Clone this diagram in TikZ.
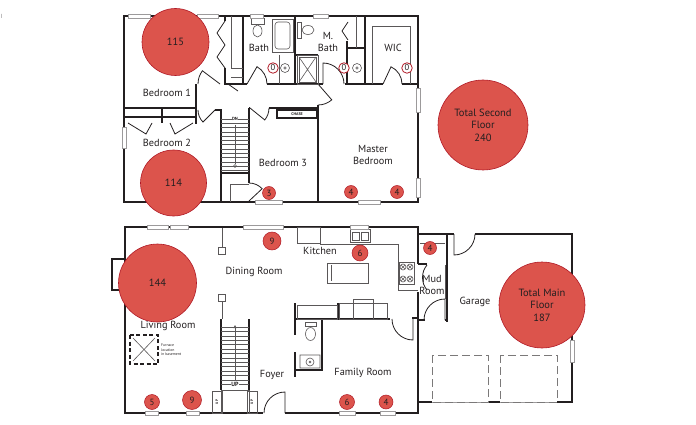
\documentclass[tikz,border=0pt]{standalone}
\usepackage{fontspec}
\setmainfont{PT Sans}
\usetikzlibrary{arrows.meta}
\definecolor{ink}{RGB}{35,31,32}
\definecolor{dotred}{RGB}{220,84,76}
\definecolor{dotrim}{RGB}{176,26,38}

\begin{document}
\begin{tikzpicture}[x=1pt,y=-1pt,
  wall/.style={line width=2.6pt,ink},
  inner/.style={line width=2pt,ink},
  fix/.style={line width=0.6pt,ink!75},
  win/.style={draw=ink!45,fill=white,line width=0.5pt},
  door/.style={line width=0.8pt,ink},
  room/.style={text=ink,align=center,font=\fontsize{10.3}{12}\selectfont},
  tiny/.style={text=ink,inner sep=0.5pt,font=\fontsize{4.5}{5}\selectfont\bfseries},
  tally/.style={circle,fill=dotred,draw=dotrim,line width=0.6pt,inner sep=0pt,
    minimum size=#1,text=ink,align=center,font=\fontsize{10.5}{12.5}\selectfont},
  vent/.style={circle,fill=dotred,draw=dotrim,line width=0.5pt,inner sep=0pt,
    minimum size=#1,text=ink,font=\fontsize{9}{9}\selectfont},
  nil/.style={circle,fill=white,draw=dotrim,line width=0.8pt,inner sep=0pt,
    minimum size=10.5pt,text=ink,font=\fontsize{8.5}{8.5}\selectfont}]
\useasboundingbox (0,0) rectangle (696,425);

% second floor
\draw[wall] (124,16) rectangle (418,202);
\draw[inner] (243,16) -- (243,84) -- (247,84);
\draw[inner] (267,84) -- (323,84) (345,84) -- (383,84) (402,84) -- (418,84);
\draw[inner] (295,16) -- (295,84) (365,16) -- (365,84);
\draw[inner] (347,41) -- (347,48) -- (365,48) (347,48) -- (347,84);
\draw[inner] (295,55) -- (318,55);
\draw[inner] (225,16) -- (225,21) (225,68) -- (225,84) -- (243,84);
\draw[inner] (124,108) -- (196,108) (196,84) -- (196,124);
\draw[inner] (215,110) -- (221,110) -- (221,202);
\draw[inner] (249,108) -- (249,183) (221,173) -- (249,173);
\draw[inner] (249,108) -- (250,108) (269,108) -- (318,108);
\draw[inner] (318,105) -- (318,202);
\draw[inner,line width=1.6pt] (124,117) -- (196,117) (162,108) -- (162,123);
% closets
\draw[door] (225,21) -- (217,33) -- (225,45) -- (217,57) -- (225,68);
\draw[fix] (231,16) -- (231,68) (231,68) -- (243,68) (231,77) -- (243,77);
\draw[door] (348,22) -- (342,31) -- (348,40);
\draw[fix] (356,16) -- (356,48);
\draw[door] (128,123) -- (146,134) -- (152,123) (170,123) -- (175,134) -- (193,123);
\draw[door] (228,84) -- (238,91);
% doors
\draw[door] (220,84) -- ++(217:22) arc[start angle=217,end angle=180,radius=22];
\draw[door] (247,84) -- ++(300:20) arc[start angle=300,end angle=360,radius=20];
\draw[door] (323,84) -- ++(270:21) arc[start angle=270,end angle=360,radius=21];
\draw[door] (383,84) -- ++(295:19) arc[start angle=295,end angle=360,radius=19];
\draw[door] (318,84) -- ++(49:21) arc[start angle=49,end angle=90,radius=21];
\draw[door] (215,110) -- ++(135:17) arc[start angle=135,end angle=180,radius=17];
\draw[door] (250,108) -- ++(39:19) arc[start angle=39,end angle=0,radius=19];
\draw[door] (249,201) -- ++(317:18) arc[start angle=317,end angle=270,radius=18];
% stairs
\foreach \k in {0,...,12} \draw[fix] (221,{119+4.3*\k}) -- (249,{119+4.3*\k});
\draw[fix] (235,125) -- (235,164);
\draw[fix] (235,166) circle (1.5);
\draw[fix] (230,202) -- (230,184) -- (249,184);
% fixtures
\draw[fix] (272,19) rectangle (293,52);
\draw[fix,rounded corners=3pt] (275,22) rectangle (290,49);
\draw[fix] (279,55) -- (279,84);
\draw[fix] (285,68) circle (4.5) (285,68) circle (1.2);
\draw[fix] (357,68) circle (4.5) (357,68) circle (1.2);
\draw[fix] (297,55) rectangle (318,84) (299,57) rectangle (316,82);
\draw[fix] (299,57) -- (316,82) (316,57) -- (299,82);
\draw[fix] (251,18) rectangle (264,24);
\draw[fix] (257.5,31) ellipse (4.5 and 6);
\draw[fix] (297,22) rectangle (301,38);
\draw[fix] (308,30) ellipse (6 and 4.5);
\draw[fix] (372,84) -- (372,26) -- (410,26) -- (410,84);
\draw[inner,line width=1.4pt] (277,110) rectangle (317,118);
\node[tiny,font=\fontsize{4}{4}\selectfont\bfseries] (chase) at (297,114) {CHASE};
% windows
\foreach \a/\b in {128/150,197/218,250/263,313/328,}
  \draw[win] (\a,14) rectangle (\b,18);
\foreach \a/\b in {255/282,358/380}
  \draw[win] (\a,200) rectangle (\b,204);
\draw[win] (122,127) rectangle (126,148);
\foreach \a/\b in {88/112,178/197}
  \draw[win] (416,\a) rectangle (420,\b);
\node[tiny,fill=white] (dn) at (235,119) {DN};

% main floor
\draw[wall] (263,413) -- (125,413) -- (125,227) -- (418,227) -- (418,264);
\draw[wall] (285,413) -- (418,413) -- (418,292);
\draw[inner] (125,259) -- (112,259) -- (112,290) -- (125,290);
\draw[inner] (412,318) -- (418,318);
% garage and mud room
\draw[wall] (418,234) -- (454,234) (475,234) -- (572,234) -- (572,402) -- (557,402);
\draw[wall] (500,402) -- (488,402) (432,402) -- (418,402);
\draw[fix,ink!45] (432,402) -- (488,402) (500,402) -- (557,402);
\draw[fix,ink!60,dash pattern=on 8pt off 4pt] (432,355) rectangle (488,402);
\draw[fix,ink!60,dash pattern=on 8pt off 4pt] (500,355) rectangle (557,402);
\draw[wall] (447,234) -- (447,322);
\draw[inner] (418,320) -- (425,320) (445,320) -- (447,320);
\draw[inner] (418,264) -- (427,264);
\draw[fix] (420,243) -- (445,243) (445,265) -- (445,299);
\draw[door] (454,234) -- ++(90:21) arc[start angle=90,end angle=0,radius=21];
\draw[door] (445,320) -- ++(270:21) arc[start angle=270,end angle=180,radius=21];
\draw[door] (427,265) .. controls (421,272) and (421,283) .. (427,290);
% kitchen
\draw[fix] (297,227) rectangle (320,243);
\draw[fix] (320,244) -- (398,244) -- (398,290) -- (418,290);
\draw[fix] (350,229) rectangle (370,242) (352,232) rectangle (359,240) (361,232) rectangle (368,240);
\draw[fix] (399,262) rectangle (414,284);
\foreach \p in {(403,267),(410,267),(403,279),(410,279)}
  \draw[fix] \p circle (3) \p ++(-2,-2) -- ++(4,4) \p ++(2,-2) -- ++(-4,4);
\draw[fix] (327,263) rectangle (368,283) (331,265) -- (331,281);
% family room and bath
\draw[inner] (295,319) -- (390,319);
\draw[inner] (295,303) -- (295,335) (295,352) -- (295,377);
\draw[inner] (295,370) -- (322,370) -- (322,319);
\draw[inner] (338,303) -- (338,319);
\draw[fix] (297,305) rectangle (337,319) (339,303) rectangle (387,319) (353,299) rectangle (373,319);
\draw[fix] (305,322) rectangle (316,326);
\draw[fix] (310.5,334) ellipse (5 and 6.5);
\draw[fix] (300,355) rectangle (320,368) (310,362) circle (4) (310,362) circle (1);
\draw[door] (413,319) -- ++(90:21) arc[start angle=90,end angle=180,radius=21];
\draw[door] (285,413) -- ++(270:21) arc[start angle=270,end angle=180,radius=21];
% columns and stairs
\draw[fix] (222,228) -- (222,247) (218.5,247) rectangle (225.5,254);
\draw[fix] (218.5,294) rectangle (225.5,301) (222,301) -- (222,319);
\draw[inner] (221,319) -- (221,390) (249,319) -- (249,390);
\draw[fix] (221,390) -- (221,413) (249,390) -- (249,413);
\foreach \k in {0,...,12} \draw[fix] (221,{327+4.4*\k}) -- (249,{327+4.4*\k});
\draw[fix] (221,384) -- (249,384) (221,390) -- (249,390);
\draw[fix,-{Triangle[open,length=3pt,width=3pt]}] (235,380) -- (235,325);
\node[tiny,fill=white,font=\fontsize{6}{6}\selectfont\bfseries] (up) at (235,384) {UP};
\draw[fix] (212,391) rectangle (222,413) (247,391) rectangle (257,413);
\node[tiny,rotate=90,font=\fontsize{3.5}{4}\selectfont\bfseries] (upl) at (217,402) {UP};
\node[tiny,rotate=90,font=\fontsize{3.5}{4}\selectfont\bfseries] (upr) at (252,402) {UP};
% furnace
\draw[line width=1.4pt,ink,dash pattern=on 4pt off 2.5pt] (130,335) rectangle (158,364);
\draw[fix] (133,338) -- (155,361) (155,338) -- (133,361);
\node[text=ink,anchor=west,align=left,inner sep=0pt,font=\fontsize{3.8}{4.6}\selectfont] (furn) at (161,350) {Furnace\\location\\in basement};
% windows
\foreach \a/\b in {147/168,170/188,243/283,350/368}
  \draw[win] (\a,225) rectangle (\b,229);
\foreach \a/\b in {145/158,186/199,339/355,380/395}
  \draw[win] (\a,411) rectangle (\b,415);
\draw[win] (570,340) rectangle (574,362);

% room names
\node[room] (b1) at (167,93) {Bedroom 1};
\node[room] (b2) at (167,143) {Bedroom 2};
\node[room] (b3) at (283,163) {Bedroom 3};
\node[room] (bath) at (259,48) {Bath};
\node[room] (mbath) at (328,42) {M.\\Bath};
\node[room] (wic) at (393,48) {WIC};
\node[room] (mbed) at (373,155) {Master\\Bedroom};
\node[room] (dining) at (254,272) {Dining Room};
\node[room] (kitchen) at (320,251) {Kitchen};
\node[room] (mud) at (432,285) {Mud\\Room};
\node[room] (garage) at (475,302) {Garage};
\node[room] (living) at (168,326) {Living Room};
\node[room] (foyer) at (272,375) {Foyer};
\node[room] (family) at (363,373) {Family Room};

% totals
\node[tally=67pt] (t115) at (175.5,42) {115};
\node[tally=66pt] (t114) at (173.5,183) {114};
\node[tally=90pt] (tup) at (483,125) {Total Second\\Floor\\240};
\node[tally=78pt] (t144) at (157.5,283) {144};
\node[tally=86pt] (tmain) at (542,305) {Total Main\\Floor\\187};

% registers
\node[nil] (z1) at (273,68) {0};
\node[nil] (z2) at (344,68) {0};
\node[nil] (z3) at (407,68) {0};
\node[vent=13pt] (v3) at (269,193) {3};
\node[vent=13pt] (v4a) at (351,192) {4};
\node[vent=13pt] (v4b) at (397,192) {4};
\node[vent=18pt] (v9a) at (272,241) {9};
\node[vent=16pt] (v6a) at (360,253) {6};
\node[vent=13pt] (v4c) at (430,248) {4};
\node[vent=15pt] (v5) at (152,402) {5};
\node[vent=19pt] (v9b) at (192,400) {9};
\node[vent=15pt] (v6b) at (347,402) {6};
\node[vent=14pt] (v4d) at (386,402) {4};
\end{tikzpicture}
\end{document}
